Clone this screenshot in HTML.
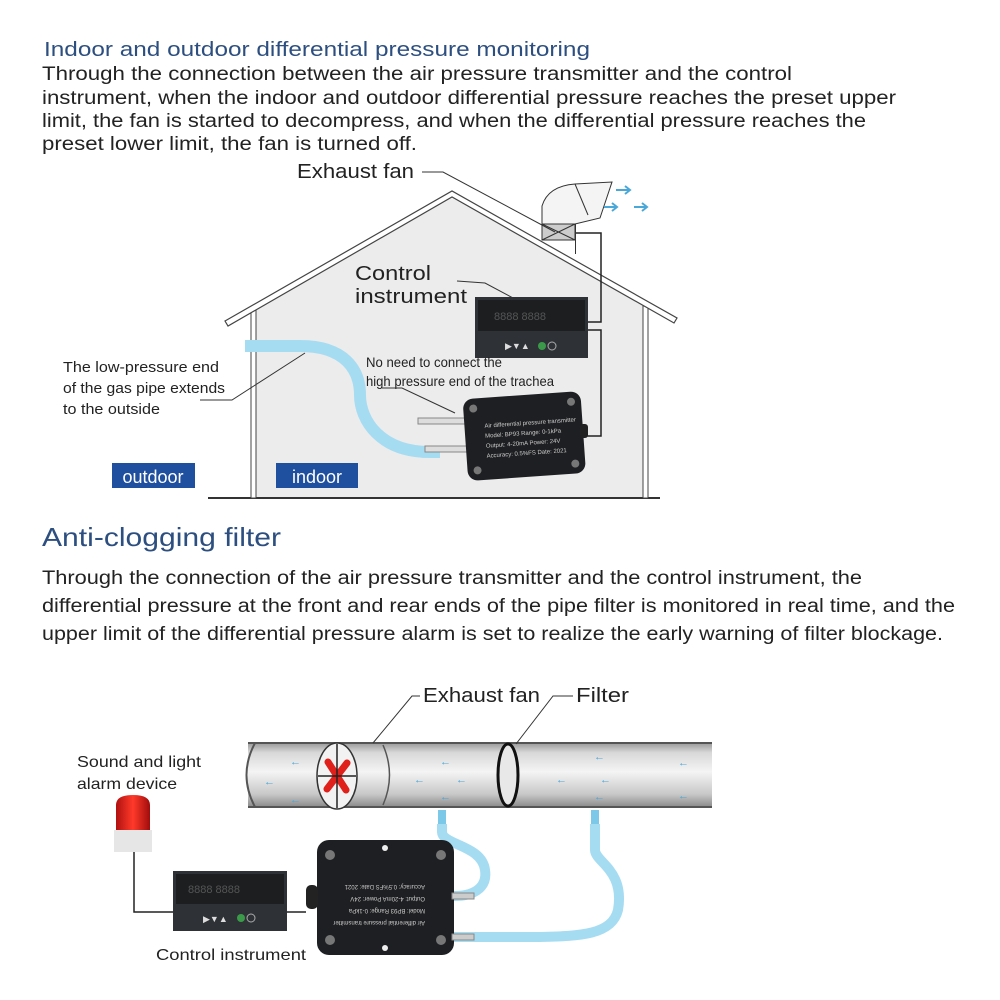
<!DOCTYPE html>
<html><head><meta charset="utf-8"><style>
html,body{margin:0;padding:0;background:#fff;}
svg{display:block;}
text{font-family:"Liberation Sans","DejaVu Sans",sans-serif;}
</style></head><body>
<svg width="1000" height="1000" viewBox="0 0 1000 1000" xmlns="http://www.w3.org/2000/svg">
<defs>
<linearGradient id="pipe" x1="0" y1="0" x2="0" y2="1">
<stop offset="0" stop-color="#9a9a9a"/><stop offset="0.15" stop-color="#d8d8d8"/><stop offset="0.45" stop-color="#f4f4f4"/><stop offset="0.8" stop-color="#c8c8c8"/><stop offset="1" stop-color="#8a8a8a"/>
</linearGradient>
<linearGradient id="red" x1="0" y1="0" x2="1" y2="0">
<stop offset="0" stop-color="#b01010"/><stop offset="0.5" stop-color="#ff3a2a"/><stop offset="1" stop-color="#a00c0c"/>
</linearGradient>
</defs>

<!-- Section 1 text -->
<text x="44" y="56" font-size="20" fill="#2d4f80" textLength="546" lengthAdjust="spacingAndGlyphs">Indoor and outdoor differential pressure monitoring</text>
<g font-size="19" fill="#222">
<text x="42" y="80" textLength="750" lengthAdjust="spacingAndGlyphs">Through the connection between the air pressure transmitter and the control</text>
<text x="42" y="104" textLength="854" lengthAdjust="spacingAndGlyphs">instrument, when the indoor and outdoor differential pressure reaches the preset upper</text>
<text x="42" y="127" textLength="824" lengthAdjust="spacingAndGlyphs">limit, the fan is started to decompress, and when the differential pressure reaches the</text>
<text x="42" y="150" textLength="375" lengthAdjust="spacingAndGlyphs">preset lower limit, the fan is turned off.</text>
</g>

<!-- House -->
<polygon points="253,310 452,198 645,306 645,497 253,497" fill="#ececec"/>
<line x1="208" y1="498" x2="660" y2="498" stroke="#333" stroke-width="2"/>
<rect x="251" y="310" width="5" height="188" fill="#fff" stroke="#444" stroke-width="1"/>
<rect x="643" y="306" width="5" height="192" fill="#fff" stroke="#444" stroke-width="1"/>
<polygon points="225,321 452,191 677,318 674,323 452,197 228,326" fill="#fff" stroke="#444" stroke-width="1.2"/>

<!-- Duct / exhaust fan -->
<path d="M542,224 L542,206 Q548,186 575,184 L612,182 L600,218 L575,224 Z" fill="#f4f4f4" stroke="#333" stroke-width="1"/>
<line x1="575" y1="184" x2="588" y2="215" stroke="#333"/>
<rect x="542" y="224" width="33" height="16" fill="#ccc" stroke="#333"/>
<line x1="542" y1="224" x2="575" y2="240" stroke="#333"/><line x1="575" y1="224" x2="542" y2="240" stroke="#333"/>
<rect x="575" y="224" width="1" height="30" fill="#333"/>
<g stroke="#4aa8d8" stroke-width="2" fill="none">
<path d="M616,190 L630,190 M625,186 L630,190 L625,194"/>
<path d="M604,207 L617,207 M612,203 L617,207 L612,211"/>
<path d="M634,207 L647,207 M642,203 L647,207 L642,211"/>
</g>
<text x="297" y="178" font-size="20" fill="#222" textLength="117" lengthAdjust="spacingAndGlyphs">Exhaust fan</text>
<polyline points="422,172 443,172 555,232" fill="none" stroke="#333" stroke-width="1"/>

<!-- Control instrument -->
<text x="355" y="280" font-size="20" fill="#222" textLength="76" lengthAdjust="spacingAndGlyphs">Control</text>
<text x="355" y="303" font-size="20" fill="#222" textLength="112" lengthAdjust="spacingAndGlyphs">instrument</text>
<polyline points="457,281 485,283 513,298" fill="none" stroke="#333"/>
<rect x="475" y="297" width="113" height="61" fill="#2e3236"/>
<rect x="478" y="300" width="107" height="31" fill="#1c1e20"/>
<text x="494" y="320" font-size="11" fill="#555" font-family="Liberation Mono,monospace">8888 8888</text>
<text x="505" y="349" font-size="9" fill="#ddd">▶▼▲</text>
<circle cx="542" cy="346" r="4" fill="#3a9a4a"/><circle cx="552" cy="346" r="4" fill="none" stroke="#aaa"/>
<polyline points="588,322 601,322 601,233 576,233" fill="none" stroke="#222" stroke-width="1.5"/>
<polyline points="588,330 601,330 601,436 583,436" fill="none" stroke="#222" stroke-width="1.5"/>

<!-- blue pipe -->
<path d="M245,346 L300,346 C345,346 360,370 360,395 C360,420 380,452 430,452 L440,452" fill="none" stroke="#a6dcf2" stroke-width="12"/>
<text x="63" y="372" font-size="15" fill="#222" textLength="156" lengthAdjust="spacingAndGlyphs">The low-pressure end</text>
<text x="63" y="393" font-size="15" fill="#222" textLength="162" lengthAdjust="spacingAndGlyphs">of the gas pipe extends</text>
<text x="63" y="414" font-size="15" fill="#222" textLength="97" lengthAdjust="spacingAndGlyphs">to the outside</text>
<polyline points="200,400 232,400 305,353" fill="none" stroke="#333"/>
<text x="366" y="367" font-size="14" fill="#222" textLength="136" lengthAdjust="spacingAndGlyphs">No need to connect the</text>
<text x="366" y="386" font-size="14" fill="#222" textLength="188" lengthAdjust="spacingAndGlyphs">high pressure end of the trachea</text>
<polyline points="382,388 402,388 455,413" fill="none" stroke="#333"/>

<!-- sensor 1 -->
<rect x="418" y="418" width="48" height="6" fill="#ddd" stroke="#888"/>
<rect x="425" y="446" width="42" height="6" fill="#ddd" stroke="#888"/>
<g transform="rotate(-4 525 432)">
<rect x="465" y="395" width="118" height="82" rx="10" fill="#1e1f22"/>
<circle cx="475" cy="405" r="4" fill="#777"/><circle cx="573" cy="405" r="4" fill="#777"/>
<circle cx="475" cy="467" r="4" fill="#777"/><circle cx="573" cy="467" r="4" fill="#777"/>
<g fill="#ccc" font-size="6" font-family="Liberation Serif,serif">
<text x="485" y="425">Air differential pressure transmitter</text>
<text x="485" y="435">Model: BP93   Range: 0-1kPa</text>
<text x="485" y="445">Output: 4-20mA  Power: 24V</text>
<text x="485" y="455">Accuracy: 0.5%FS  Date: 2021</text>
</g></g>
<rect x="580" y="424" width="8" height="14" rx="3" fill="#222"/>

<rect x="112" y="463" width="83" height="25" fill="#1f4f9f"/>
<text x="153" y="483" font-size="18" fill="#fff" text-anchor="middle">outdoor</text>
<rect x="276" y="463" width="82" height="25" fill="#1f4f9f"/>
<text x="317" y="483" font-size="18" fill="#fff" text-anchor="middle">indoor</text>

<!-- Section 2 text -->
<text x="42" y="546" font-size="26" fill="#2d4f80" textLength="239" lengthAdjust="spacingAndGlyphs">Anti-clogging filter</text>
<g font-size="19" fill="#222">
<text x="42" y="584" textLength="820" lengthAdjust="spacingAndGlyphs">Through the connection of the air pressure transmitter and the control instrument, the</text>
<text x="42" y="612" textLength="913" lengthAdjust="spacingAndGlyphs">differential pressure at the front and rear ends of the pipe filter is monitored in real time, and the</text>
<text x="42" y="640" textLength="901" lengthAdjust="spacingAndGlyphs">upper limit of the differential pressure alarm is set to realize the early warning of filter blockage.</text>
</g>

<!-- Pipe -->
<rect x="248" y="743" width="464" height="64" fill="url(#pipe)"/>
<line x1="248" y1="743" x2="712" y2="743" stroke="#555" stroke-width="2"/>
<line x1="248" y1="807" x2="712" y2="807" stroke="#555" stroke-width="2"/>
<path d="M255,743 Q238,775 255,807" fill="none" stroke="#555" stroke-width="2"/>
<path d="M383,745 Q396,775 383,805" fill="none" stroke="#555" stroke-width="1.5"/>
<ellipse cx="337" cy="776" rx="20" ry="33" fill="#f2f2f2" stroke="#333" stroke-width="1.5"/>
<g stroke="#e0201a" stroke-width="7" stroke-linecap="round"><line x1="328" y1="762" x2="346" y2="790"/><line x1="347" y1="763" x2="327" y2="789"/></g>
<g stroke="#222" stroke-width="1.5"><line x1="337" y1="744" x2="337" y2="808"/><line x1="318" y1="776" x2="356" y2="776"/></g>
<ellipse cx="508" cy="775" rx="10" ry="31" fill="#e8e8e8" stroke="#111" stroke-width="3"/>
<g fill="#4aa8d8" font-size="11">
<text x="264" y="785">←</text><text x="290" y="765">←</text><text x="290" y="803">←</text>
<text x="414" y="783">←</text><text x="440" y="765">←</text><text x="456" y="783">←</text><text x="440" y="800">←</text>
<text x="556" y="783">←</text><text x="594" y="760">←</text><text x="600" y="783">←</text><text x="594" y="800">←</text>
<text x="678" y="766">←</text><text x="678" y="799">←</text>
</g>
<text x="423" y="702" font-size="20" fill="#222" textLength="117" lengthAdjust="spacingAndGlyphs">Exhaust fan</text>
<text x="576" y="702" font-size="20" fill="#222" textLength="53" lengthAdjust="spacingAndGlyphs">Filter</text>
<polyline points="420,696 412,696 373,743" fill="none" stroke="#333"/>
<polyline points="573,696 553,696 516,744" fill="none" stroke="#333"/>

<!-- blue tubes -->
<rect x="438" y="810" width="8" height="14" fill="#7cc8e8"/>
<rect x="591" y="810" width="8" height="14" fill="#7cc8e8"/>
<path d="M442,824 L442,832 C442,845 482,845 485,870 C488,890 470,896 455,896 L440,896" fill="none" stroke="#a6dcf2" stroke-width="10"/>
<path d="M595,824 L595,850 C595,862 625,870 618,910 C612,935 580,936 540,937 L440,937" fill="none" stroke="#a6dcf2" stroke-width="10"/>

<!-- sensor 2 -->
<rect x="317" y="840" width="137" height="115" rx="12" fill="#1e1f22"/>
<circle cx="330" cy="855" r="5" fill="#777"/><circle cx="441" cy="855" r="5" fill="#777"/>
<circle cx="330" cy="940" r="5" fill="#777"/><circle cx="441" cy="940" r="5" fill="#777"/>
<circle cx="385" cy="848" r="3" fill="#eee"/><circle cx="385" cy="948" r="3" fill="#eee"/>
<g fill="#ccc" font-size="6" font-family="Liberation Serif,serif" transform="rotate(180 385 898)">
<text x="345" y="875">Air differential pressure transmitter</text>
<text x="345" y="887">Model: BP93   Range: 0-1kPa</text>
<text x="345" y="899">Output: 4-20mA  Power: 24V</text>
<text x="345" y="911">Accuracy: 0.5%FS  Date: 2021</text>
</g>
<rect x="306" y="885" width="12" height="24" rx="5" fill="#222"/>
<rect x="452" y="893" width="22" height="6" fill="#ccc" stroke="#888"/>
<rect x="452" y="934" width="22" height="6" fill="#ccc" stroke="#888"/>

<!-- alarm -->
<text x="77" y="767" font-size="16" fill="#222" textLength="124" lengthAdjust="spacingAndGlyphs">Sound and light</text>
<text x="77" y="789" font-size="16" fill="#222" textLength="100" lengthAdjust="spacingAndGlyphs">alarm device</text>
<path d="M116,830 L116,805 Q116,795 133,795 Q150,795 150,805 L150,830 Z" fill="url(#red)"/>
<rect x="114" y="830" width="38" height="22" fill="#e6e6e6"/>
<polyline points="134,852 134,912 175,912" fill="none" stroke="#222" stroke-width="1.5"/>
<line x1="287" y1="912" x2="306" y2="912" stroke="#222" stroke-width="1.5"/>

<!-- controller 2 -->
<rect x="173" y="871" width="114" height="60" fill="#2e3236"/>
<rect x="176" y="874" width="108" height="30" fill="#1c1e20"/>
<text x="188" y="893" font-size="11" fill="#555" font-family="Liberation Mono,monospace">8888 8888</text>
<text x="203" y="922" font-size="9" fill="#ddd">▶▼▲</text>
<circle cx="241" cy="918" r="4" fill="#3a9a4a"/><circle cx="251" cy="918" r="4" fill="none" stroke="#aaa"/>
<text x="156" y="960" font-size="16" fill="#222" textLength="150" lengthAdjust="spacingAndGlyphs">Control instrument</text>
</svg>
</body></html>
